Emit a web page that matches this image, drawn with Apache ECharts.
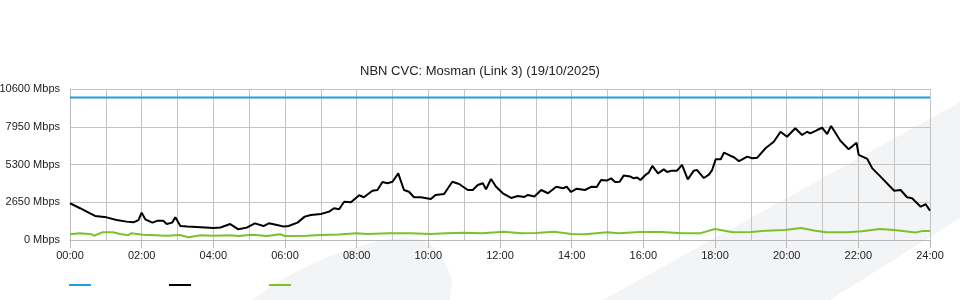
<!DOCTYPE html>
<html>
<head>
<meta charset="utf-8">
<script src="https://cdn.jsdelivr.net/npm/echarts@6/dist/echarts.min.js"></script>
<style>html,body{margin:0;padding:0;background:#fff;}#c{width:960px;height:300px;}</style>
</head>
<body>
<div id="c"></div>
<script>
// Hours of day (0-24) and Mbps values
const capacityTimes = [0, 24];
const capacityValues = [10000, 10000];

const downTimes = [0, 0.28, 0.56, 0.7, 1.02, 1.3, 1.58, 1.77, 1.91, 2.0,
  2.1, 2.3, 2.45, 2.6, 2.7, 2.85, 2.94, 3.08, 3.27, 3.65,
  4.0, 4.2, 4.47, 4.7, 4.93, 5.16, 5.4, 5.55, 5.78, 5.97,
  6.1, 6.35, 6.55, 6.72, 7.0, 7.23, 7.37, 7.51, 7.65, 7.84,
  8.07, 8.2, 8.44, 8.58, 8.72, 8.86, 9.0, 9.16, 9.32, 9.46,
  9.6, 9.79, 10.07, 10.2, 10.44, 10.67, 10.86, 11.1, 11.24, 11.38,
  11.52, 11.61, 11.75, 11.89, 12.08, 12.31, 12.5, 12.68, 12.78, 12.96,
  13.15, 13.34, 13.57, 13.76, 13.86, 13.98, 14.14, 14.37, 14.56, 14.7,
  14.82, 14.98, 15.1, 15.21, 15.34, 15.45, 15.64, 15.73, 15.83, 15.92,
  16.06, 16.15, 16.25, 16.41, 16.57, 16.66, 16.8, 16.94, 17.08, 17.24,
  17.41, 17.5, 17.69, 17.83, 17.92, 18.02, 18.16, 18.25, 18.44, 18.53,
  18.67, 18.9, 19.04, 19.18, 19.41, 19.64, 19.83, 20.01, 20.24, 20.43,
  20.57, 20.66, 20.85, 20.99, 21.13, 21.24, 21.5, 21.73, 21.95, 22.01,
  22.25, 22.39, 22.62, 23.0, 23.18, 23.36, 23.5, 23.74, 23.88, 24.0];
const downValues = [2580, 2230, 1870, 1690, 1590, 1400, 1290, 1240, 1400, 1920,
  1450, 1220, 1360, 1360, 1120, 1220, 1590, 980, 940, 890,
  840, 880, 1120, 750, 870, 1170, 980, 1170, 1050, 940,
  980, 1220, 1640, 1760, 1830, 1990, 2230, 2160, 2690, 2650,
  3140, 3000, 3460, 3510, 4070, 3980, 4090, 4680, 3510, 3390,
  3000, 3000, 2880, 3160, 3230, 4090, 3930, 3510, 3510, 3860,
  3980, 3560, 4280, 3740, 3280, 2950, 3090, 3020, 3160, 3050,
  3510, 3280, 3740, 3630, 3740, 3370, 3600, 3510, 3740, 3720,
  4210, 4170, 4330, 4070, 4090, 4520, 4450, 4330, 4380, 4210,
  4560, 4730, 5200, 4680, 4960, 4780, 4870, 4870, 5270, 4260,
  4870, 4910, 4350, 4590, 4910, 5670, 5670, 6130, 5900, 5810,
  5530, 5850, 5740, 5780, 6440, 6900, 7600, 7250, 7840, 7370,
  7600, 7490, 7720, 7880, 7440, 8000, 6970, 6370, 6830, 5970,
  5690, 5030, 4450, 3460, 3510, 3000, 2930, 2340, 2510, 2060];

const upTimes = [0, 0.28, 0.6, 0.67, 0.9, 1.2, 1.4, 1.62, 1.7, 2.05,
  2.7, 3.07, 3.3, 3.65, 4.0, 4.47, 4.7, 5.1, 5.5, 5.87,
  6.0, 6.6, 7.0, 7.5, 8.0, 8.3, 8.9, 9.5, 10.07, 10.5,
  11.0, 11.5, 12.1, 12.6, 13.0, 13.5, 14.0, 14.37, 15.0, 15.3,
  15.9, 16.5, 17.1, 17.6, 18.0, 18.5, 19.0, 19.4, 19.95, 20.4,
  20.8, 21.1, 21.7, 22.1, 22.6, 23.0, 23.6, 23.8, 24.0];
const upValues = [400, 470, 400, 300, 540, 540, 420, 330, 470, 370,
  300, 350, 190, 330, 300, 330, 280, 370, 280, 400,
  280, 300, 350, 380, 470, 420, 470, 470, 420, 470,
  510, 480, 580, 470, 500, 580, 420, 400, 540, 470,
  560, 570, 470, 480, 770, 540, 560, 650, 700, 840,
  650, 540, 540, 620, 770, 700, 520, 640, 630];

const seriesNames = ['Capacity', 'Download', 'Upload'];
const titleText = 'NBN CVC: Mosman (Link 3) (19/10/2025)';
const yTicks = [0, 2650, 5300, 7950, 10600];

const pairs = (t, v) => t.map((x, i) => [x, v[i]]);
const FONT = 'Liberation Sans, Arial, sans-serif';
const GRID = '#c4c4c4';

const chart = echarts.init(document.getElementById('c'), null, {renderer: 'canvas'});
chart.setOption({
  animation: false,
  backgroundColor: '#fff',
  title: {
    text: titleText, left: 'center', top: 60,
    textStyle: {fontSize: 13, fontWeight: 'normal', color: '#222', fontFamily: FONT}
  },
  graphic: [
    {type: 'polygon', z: -10, silent: true,
      shape: {points: [[253, 300], [270, 287], [290, 275], [310, 265], [330, 256], [350, 249],
        [370, 243], [390, 239], [405, 238], [418, 239], [430, 244], [440, 254], [447, 266],
        [452, 282], [450, 300]]},
      style: {fill: '#f3f4f6'}},
    {type: 'polygon', z: -10, silent: true,
      shape: {points: [[603, 300], [960, 102], [960, 218], [830, 300]]},
      style: {fill: '#f3f4f6'}}
  ],
  legend: seriesNames.map((n, i) => ({
    data: [n], left: 69 + i * 100, top: 284, icon: 'rect',
    itemWidth: 22, itemHeight: 2, formatter: () => '', selectedMode: false,
    padding: 0
  })),
  grid: {left: 70, right: 30, top: 89, bottom: 60, containLabel: false, outerBoundsMode: 'none'},
  xAxis: {
    type: 'value', min: 0, max: 24, interval: 2,
    axisLine: {show: true, lineStyle: {color: '#b8b8b8', width: 1}},
    axisTick: {show: true, length: 8, lineStyle: {color: '#b8b8b8'}},
    axisLabel: {
      color: '#222', fontSize: 11, fontFamily: FONT, margin: 10,
      formatter: v => (v < 10 ? '0' : '') + v + ':00'
    },
    splitLine: {show: true, lineStyle: {color: GRID, width: 1}},
    minorTick: {show: false, splitNumber: 2},
    minorSplitLine: {show: true, lineStyle: {color: GRID, width: 1}}
  },
  yAxis: {
    type: 'value', min: yTicks[0], max: yTicks[yTicks.length - 1], interval: yTicks[1] - yTicks[0],
    axisLine: {show: true, lineStyle: {color: '#b8b8b8', width: 1}},
    axisTick: {show: false},
    axisLabel: {color: '#222', fontSize: 11, fontFamily: FONT, margin: 10,
      formatter: v => String(v) + ' Mbps'},
    splitLine: {show: true, lineStyle: {color: GRID, width: 1}}
  },
  series: [
    {name: seriesNames[0], type: 'line', data: pairs(capacityTimes, capacityValues),
      showSymbol: false, color: '#1e9fe0', lineStyle: {width: 2, color: '#1e9fe0'}, z: 3},
    {name: seriesNames[1], type: 'line', data: pairs(downTimes, downValues),
      showSymbol: false, color: '#000', lineStyle: {width: 2, color: '#000'}, z: 4},
    {name: seriesNames[2], type: 'line', data: pairs(upTimes, upValues),
      showSymbol: false, color: '#7cc12c', lineStyle: {width: 2, color: '#7cc12c'}, z: 3}
  ]
});
</script>
</body>
</html>
